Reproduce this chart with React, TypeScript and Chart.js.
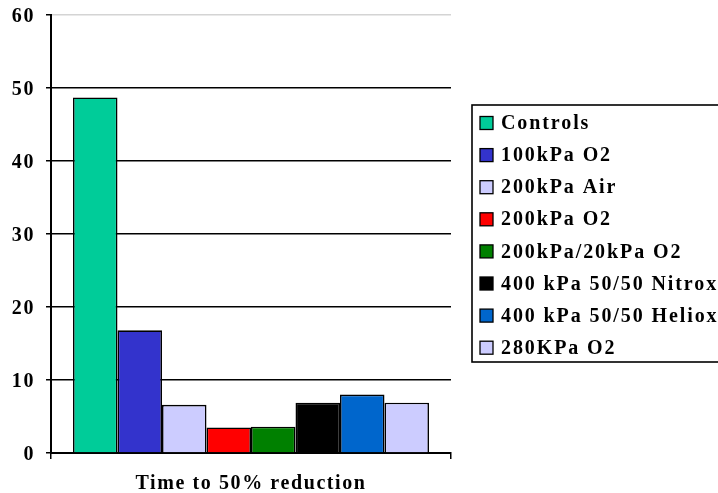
import React, { useEffect, useRef } from "react";
import { Chart, registerables } from "chart.js";

Chart.register(...registerables);

const categories = ["Time to 50% reduction"];
const seriesNames = [
  "Controls",
  "100kPa O2",
  "200kPa Air",
  "200kPa O2",
  "200kPa/20kPa O2",
  "400 kPa 50/50 Nitrox",
  "400 kPa 50/50 Heliox",
  "280KPa O2",
];
const seriesValues = [48.7, 16.8, 6.6, 3.5, 3.6, 6.9, 8.0, 6.9];
const seriesColors = [
  "#00CC99",
  "#3333CC",
  "#CCCCFF",
  "#FF0000",
  "#008000",
  "#000000",
  "#0066CC",
  "#CCCCFF",
];
const yMin = 0;
const yMax = 60;
const yStep = 10;

const FONT_FAMILY = "'Liberation Serif', 'Times New Roman', serif";
const FONT_SIZE = 20;
const SPACING = "1.6px";

const spacingPlugin = {
  id: "letterSpacing",
  beforeLayout(chart: any) {
    chart.ctx.letterSpacing = SPACING;
  },
  beforeDraw(chart: any) {
    chart.ctx.letterSpacing = SPACING;
  },
};

const boxedLegendPlugin = {
  id: "boxedLegend",
  afterDraw(chart: any) {
    const { ctx, chartArea } = chart;
    const datasets = chart.data.datasets;
    const n = datasets.length;
    const rowH = 32.1;
    const boxSize = 13;
    const left = chartArea.right + 21;
    const centerY = (chartArea.top + chartArea.bottom) / 2;
    const top = centerY - 129;
    const height = 257;
    ctx.save();
    ctx.letterSpacing = "1.9px";
    ctx.lineWidth = 1.6;
    ctx.strokeStyle = "#000";
    ctx.strokeRect(left, top, 400, height);
    ctx.font = `bold ${FONT_SIZE}px ${FONT_FAMILY}`;
    ctx.textBaseline = "middle";
    ctx.textAlign = "left";
    const firstY = top + 18;
    for (let i = 0; i < n; i++) {
      const y = firstY + i * rowH;
      ctx.fillStyle = datasets[i].backgroundColor;
      ctx.fillRect(left + 8, y - boxSize / 2, boxSize, boxSize);
      ctx.lineWidth = 1.3;
      ctx.strokeRect(left + 8, y - boxSize / 2, boxSize, boxSize);
      ctx.fillStyle = "#000";
      ctx.fillText(datasets[i].label, left + 29, y + 1);
    }
    ctx.restore();
  },
};

export default function App() {
  const canvasRef = useRef<HTMLCanvasElement | null>(null);

  useEffect(() => {
    document.body.style.margin = "0";
    const canvas = canvasRef.current;
    if (!canvas) return;
    let chart: Chart | null = null;
    let cancelled = false;
    const build = () => {
      if (cancelled) return;
      chart = new Chart(canvas, {
        type: "bar",
        data: {
          labels: categories,
          datasets: seriesNames.map((name, i) => ({
            label: name,
            data: [seriesValues[i]],
            backgroundColor: seriesColors[i],
            borderColor: "#000",
            borderWidth: 1.6,
            categoryPercentage: 0.89,
            barPercentage: 1,
          })),
        },
        options: {
          animation: false,
          responsive: false,
          maintainAspectRatio: false,
          layout: { padding: { top: 15, right: 267, left: 0, bottom: 0 } },
          plugins: {
            legend: { display: false },
            tooltip: { enabled: false },
            title: { display: false },
          },
          scales: {
            x: {
              grid: {
                display: true,
                drawOnChartArea: false,
                drawTicks: true,
                tickLength: 6,
                color: "#000",
                lineWidth: 1.5,
              },
              border: { display: true, color: "#000", width: 2 },
              ticks: {
                color: "#000",
                padding: 13,
                font: { family: FONT_FAMILY, size: FONT_SIZE, weight: "bold" },
              },
              afterFit(scale: any) {
                scale.height = 40;
                scale.paddingLeft = 0;
                scale.paddingRight = 0;
              },
            },
            y: {
              min: yMin,
              max: yMax,
              ticks: {
                stepSize: yStep,
                color: "#000",
                padding: 11,
                labelOffset: 2,
                font: { family: FONT_FAMILY, size: FONT_SIZE, weight: "bold" },
              },
              grid: {
                color: (ctx: any) =>
                  ctx.tick && ctx.tick.value === yMax ? "#d4d4d4" : "#000",
                tickColor: "#000",
                lineWidth: 1.5,
                tickLength: 5,
              },
              border: { display: true, color: "#000", width: 2 },
              afterFit(scale: any) {
                scale.width = 51;
                scale.paddingTop = 0;
                scale.paddingBottom = 0;
              },
            },
          },
        } as any,
        plugins: [spacingPlugin, boxedLegendPlugin],
      });
    };
    const fonts: any = (document as any).fonts;
    if (fonts && fonts.load) {
      fonts
        .load(`bold ${FONT_SIZE}px "Liberation Serif"`)
        .then(build, build);
    } else {
      build();
    }
    return () => {
      cancelled = true;
      if (chart) chart.destroy();
    };
  }, []);

  return (
    <div style={{ width: 718, height: 493, background: "#fff" }}>
      <canvas ref={canvasRef} width={718} height={493} style={{ display: "block" }} />
    </div>
  );
}
